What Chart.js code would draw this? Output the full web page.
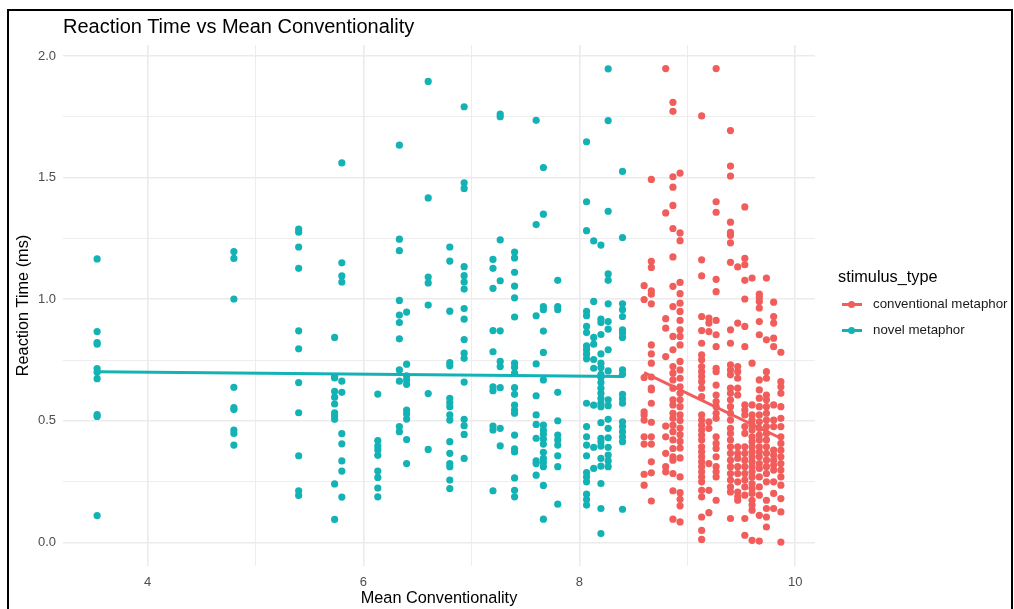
<!DOCTYPE html>
<html>
<head>
<meta charset="utf-8">
<script src="https://cdn.jsdelivr.net/npm/chart.js@4.4.1/dist/chart.umd.min.js"></script>
<style>
  html, body { margin: 0; padding: 0; background: #fff; overflow: hidden; }
  body { width: 1014px; height: 609px; position: relative; font-family: "Liberation Sans", Arial, sans-serif; }
  #frame { position: absolute; left: 7px; top: 9px; width: 1002px; height: 700px; border: 2px solid #000; }
  #wrap { position: absolute; left: 0; top: 0; width: 1014px; height: 609px; }
  #title { position: absolute; left: 63px; top: 15px; font-size: 20px; color: #000; white-space: nowrap; }
  #legend { position: absolute; left: 838px; top: 267px; color: #000; }
  #legend .lt { font-size: 16.3px; margin-bottom: 10px; }
  #legend .item { position: relative; height: 26px; font-size: 13.3px; color: #1a1a1a; }
  #legend .key { position: absolute; left: 4px; top: 7px; width: 20px; height: 3px; }
  #legend .dot { position: absolute; left: 10px; top: 5px; width: 7px; height: 7px; border-radius: 50%; }
  #legend .lab { position: absolute; left: 35px; top: 0; white-space: nowrap; }
</style>
</head>
<body>
<div id="frame"></div>
<div id="wrap"><canvas id="chart" width="1014" height="609"></canvas></div>
<div id="title">Reaction Time vs Mean Conventionality</div>
<div id="legend">
  <div class="lt">stimulus_type</div>
  <div class="item"><div class="key" style="background:#F15D5B"></div><div class="dot" style="background:#F15D5B"></div><span class="lab">conventional metaphor</span></div>
  <div class="item"><div class="key" style="background:#13B2B5"></div><div class="dot" style="background:#13B2B5"></div><span class="lab">novel metaphor</span></div>
</div>
<script>
// mean conventionality of each item column, and the reaction times seen in it
const novelX = [3.533, 4.8, 5.4, 5.733, 5.8, 6.133, 6.333, 6.4, 6.6, 6.8, 6.933, 7.2, 7.267, 7.4, 7.6, 7.667, 7.8, 8.067, 8.133, 8.2, 8.267, 8.4];
const novelRT = [
    [1.166, 0.867, 0.822, 0.815, 0.715, 0.700, 0.673, 0.525, 0.518, 0.110],
    [1.196, 1.168, 1.001, 0.638, 0.554, 0.546, 0.462, 0.448, 0.400],
    [1.289, 1.276, 1.215, 1.127, 0.870, 0.796, 0.657, 0.533, 0.356, 0.212, 0.193],
    [0.843, 0.682, 0.676, 0.621, 0.597, 0.569, 0.533, 0.520, 0.506, 0.240, 0.094],
    [1.561, 1.150, 1.096, 1.071, 0.663, 0.617, 0.447, 0.405, 0.335, 0.293, 0.186],
    [0.610, 0.418, 0.396, 0.380, 0.358, 0.293, 0.267, 0.223, 0.187],
    [1.634, 1.247, 1.200, 0.995, 0.935, 0.904, 0.837, 0.709, 0.663, 0.476, 0.455],
    [0.947, 0.733, 0.685, 0.668, 0.650, 0.544, 0.528, 0.507, 0.423, 0.324],
    [1.896, 1.417, 1.091, 1.067, 0.976, 0.612, 0.382],
    [1.215, 1.157, 0.951, 0.739, 0.726, 0.592, 0.575, 0.558, 0.524, 0.503, 0.414, 0.366, 0.324, 0.311, 0.256, 0.221],
    [1.792, 1.479, 1.456, 1.134, 1.097, 1.071, 1.042, 0.962, 0.918, 0.834, 0.778, 0.757, 0.659, 0.506, 0.480, 0.444, 0.345],
    [1.164, 1.127, 1.045, 0.871, 0.784, 0.640, 0.624, 0.478, 0.462, 0.212],
    [1.762, 1.751, 1.244, 1.076, 0.870, 0.744, 0.723, 0.636, 0.469, 0.397],
    [1.194, 1.170, 1.111, 1.054, 1.006, 0.927, 0.737, 0.720, 0.696, 0.636, 0.609, 0.564, 0.544, 0.531, 0.441, 0.384, 0.372, 0.265, 0.214, 0.187],
    [1.736, 1.307, 0.932, 0.734, 0.603, 0.524, 0.485, 0.428, 0.335, 0.324, 0.276],
    [1.542, 1.350, 0.970, 0.957, 0.869, 0.781, 0.668, 0.482, 0.462, 0.445, 0.425, 0.404, 0.370, 0.345, 0.329, 0.311, 0.234, 0.095],
    [1.078, 0.970, 0.957, 0.617, 0.500, 0.441, 0.421, 0.400, 0.356, 0.311, 0.157],
    [1.648, 1.401, 1.282, 0.950, 0.932, 0.888, 0.863, 0.808, 0.792, 0.774, 0.755, 0.572, 0.476, 0.434, 0.400, 0.356, 0.287, 0.269, 0.249, 0.198, 0.176, 0.153],
    [1.240, 0.991, 0.843, 0.815, 0.752, 0.716, 0.564, 0.391, 0.304],
    [1.223, 0.918, 0.904, 0.855, 0.775, 0.737, 0.719, 0.691, 0.678, 0.657, 0.634, 0.613, 0.592, 0.572, 0.558, 0.492, 0.428, 0.414, 0.396, 0.345, 0.313, 0.242, 0.139, 0.036],
    [1.948, 1.735, 1.362, 1.104, 1.078, 0.981, 0.908, 0.877, 0.792, 0.705, 0.586, 0.562, 0.506, 0.469, 0.430, 0.391, 0.359, 0.335, 0.311],
    [1.526, 1.254, 0.981, 0.957, 0.929, 0.874, 0.861, 0.843, 0.709, 0.691, 0.609, 0.590, 0.572, 0.496, 0.476, 0.455, 0.434, 0.414, 0.136]
];

const convX = [8.6, 8.667, 8.8, 8.867, 8.933, 9.133, 9.2, 9.267, 9.4, 9.467, 9.533, 9.6, 9.667, 9.733, 9.8, 9.867];
const convRT = [
    [1.056, 0.999, 0.678, 0.537, 0.524, 0.503, 0.434, 0.404, 0.280, 0.235],
    [1.493, 1.156, 1.131, 1.035, 1.021, 0.981, 0.812, 0.775, 0.737, 0.680, 0.634, 0.627, 0.572, 0.494, 0.434, 0.404, 0.331, 0.286, 0.170],
    [1.949, 1.355, 0.920, 0.881, 0.764, 0.478, 0.434, 0.366, 0.311, 0.290],
    [1.810, 1.773, 1.504, 1.461, 1.386, 1.291, 1.174, 1.053, 0.970, 0.847, 0.792, 0.723, 0.696, 0.668, 0.634, 0.586, 0.565, 0.531, 0.510, 0.482, 0.455, 0.421, 0.386, 0.352, 0.338, 0.283, 0.212, 0.095],
    [1.519, 1.273, 1.241, 1.069, 1.023, 0.984, 0.950, 0.913, 0.874, 0.847, 0.812, 0.744, 0.709, 0.675, 0.640, 0.613, 0.586, 0.558, 0.524, 0.501, 0.470, 0.443, 0.415, 0.388, 0.347, 0.269, 0.204, 0.177, 0.150, 0.084],
    [1.754, 1.162, 1.096, 0.929, 0.871, 0.819, 0.771, 0.751, 0.723, 0.702, 0.682, 0.661, 0.634, 0.599, 0.524, 0.503, 0.482, 0.462, 0.441, 0.421, 0.393, 0.373, 0.352, 0.331, 0.311, 0.290, 0.269, 0.249, 0.214, 0.187, 0.104, 0.049, 0.012],
    [0.922, 0.902, 0.867, 0.496, 0.469, 0.324, 0.214, 0.122],
    [1.949, 1.401, 1.358, 1.082, 1.031, 0.913, 0.854, 0.805, 0.716, 0.702, 0.647, 0.606, 0.579, 0.558, 0.531, 0.510, 0.434, 0.407, 0.386, 0.352, 0.311, 0.290, 0.269, 0.173],
    [1.694, 1.548, 1.507, 1.317, 1.275, 1.263, 1.232, 1.152, 0.874, 0.819, 0.730, 0.709, 0.689, 0.634, 0.613, 0.586, 0.558, 0.531, 0.503, 0.469, 0.448, 0.421, 0.393, 0.366, 0.338, 0.311, 0.283, 0.256, 0.228, 0.207, 0.098],
    [1.133, 0.902, 0.723, 0.702, 0.675, 0.634, 0.606, 0.393, 0.366, 0.345, 0.311, 0.283, 0.249, 0.207, 0.187, 0.173],
    [1.380, 1.168, 1.142, 1.078, 1.001, 0.888, 0.805, 0.565, 0.544, 0.524, 0.476, 0.448, 0.393, 0.366, 0.338, 0.311, 0.283, 0.256, 0.228, 0.194, 0.098, 0.029],
    [1.087, 0.737, 0.565, 0.524, 0.503, 0.482, 0.462, 0.434, 0.414, 0.393, 0.372, 0.352, 0.331, 0.311, 0.290, 0.269, 0.242, 0.221, 0.201, 0.173, 0.153, 0.132, 0.008],
    [1.021, 1.007, 0.991, 0.964, 0.908, 0.854, 0.668, 0.627, 0.593, 0.558, 0.524, 0.496, 0.469, 0.441, 0.421, 0.393, 0.372, 0.352, 0.324, 0.304, 0.269, 0.228, 0.194, 0.111, 0.005],
    [1.087, 0.833, 0.702, 0.675, 0.606, 0.586, 0.558, 0.531, 0.503, 0.476, 0.448, 0.421, 0.393, 0.366, 0.338, 0.311, 0.283, 0.249, 0.173, 0.139, 0.104, 0.063],
    [0.988, 0.929, 0.902, 0.840, 0.805, 0.565, 0.503, 0.476, 0.379, 0.359, 0.338, 0.318, 0.297, 0.249, 0.201, 0.139],
    [0.782, 0.661, 0.640, 0.613, 0.558, 0.510, 0.476, 0.434, 0.407, 0.379, 0.352, 0.324, 0.297, 0.269, 0.235, 0.180, 0.125, 0.001]
];

// fitted lines (end points)
const novelFitX = [3.533, 8.4];
const novelFitY = [0.702, 0.682];
const convFitX = [8.6, 9.867];
const convFitY = [0.698, 0.428];

const xTicks = [4, 5, 6, 7, 8, 9, 10];
const yTicks = [0, 0.25, 0.5, 0.75, 1, 1.25, 1.5, 1.75, 2];

const RED = '#F15D5B';
const TEAL = '#13B2B5';

function toPoints(xs, ys) {
    const pts = [];
    xs.forEach((x, i) => {
        ys[i].forEach(y => pts.push({ x: x, y: y }));
    });
    return pts;
}

function fitPoints(xs, ys) {
    return xs.map((x, i) => ({ x: x, y: ys[i] }));
}

const tickFont = { family: 'Liberation Sans, Arial, sans-serif', size: 13 };
const titleFont = { family: 'Liberation Sans, Arial, sans-serif', size: 16.3 };

new Chart(document.getElementById('chart'), {
    type: 'scatter',
    data: {
        datasets: [
            { type: 'line', data: fitPoints(convFitX, convFitY), borderColor: RED, borderWidth: 3, pointRadius: 0, showLine: true, fill: false, order: 0 },
            { type: 'line', data: fitPoints(novelFitX, novelFitY), borderColor: TEAL, borderWidth: 3, pointRadius: 0, showLine: true, fill: false, order: 0 },
            { label: 'conventional metaphor', data: toPoints(convX, convRT), backgroundColor: RED, borderWidth: 0, pointRadius: 3.6, order: 1 },
            { label: 'novel metaphor', data: toPoints(novelX, novelRT), backgroundColor: TEAL, borderWidth: 0, pointRadius: 3.6, order: 2 }
        ]
    },
    options: {
        responsive: false,
        animation: false,
        layout: { padding: { left: 0, top: 45, right: 199, bottom: 0 } },
        plugins: { legend: { display: false }, tooltip: { enabled: false } },
        scales: {
            x: {
                type: 'linear',
                min: 3.217,
                max: 10.183,
                afterBuildTicks: s => { s.ticks = xTicks.map(v => ({ value: v })); },
                afterFit: s => { s.height = 43; },
                border: { display: false },
                grid: {
                    color: '#EBEBEB',
                    lineWidth: c => (c.tick && c.tick.value % 2 === 0 ? 1.6 : 0.9),
                    drawTicks: false
                },
                ticks: {
                    color: '#4D4D4D',
                    font: tickFont,
                    padding: 9,
                    maxRotation: 0,
                    autoSkip: false,
                    callback: v => (v % 2 === 0 ? String(v) : '')
                },
                title: { display: true, text: 'Mean Conventionality', color: '#000', font: titleFont, padding: { top: 0, bottom: 1 } }
            },
            y: {
                type: 'linear',
                min: -0.0975,
                max: 2.046,
                afterBuildTicks: s => { s.ticks = yTicks.map(v => ({ value: v })); },
                afterFit: s => { s.width = 63; },
                border: { display: false },
                grid: {
                    color: '#EBEBEB',
                    lineWidth: c => (c.tick && Math.abs(c.tick.value * 2 - Math.round(c.tick.value * 2)) < 1e-6 ? 1.6 : 0.9),
                    drawTicks: false
                },
                ticks: {
                    color: '#4D4D4D',
                    font: tickFont,
                    padding: 7,
                    autoSkip: false,
                    callback: v => (Math.abs(v * 2 - Math.round(v * 2)) < 1e-6 ? v.toFixed(1) : '')
                },
                title: { display: true, text: 'Reaction Time (ms)', color: '#000', font: titleFont, padding: { top: 14, bottom: 0 } }
            }
        }
    }
});
</script>
</body>
</html>
